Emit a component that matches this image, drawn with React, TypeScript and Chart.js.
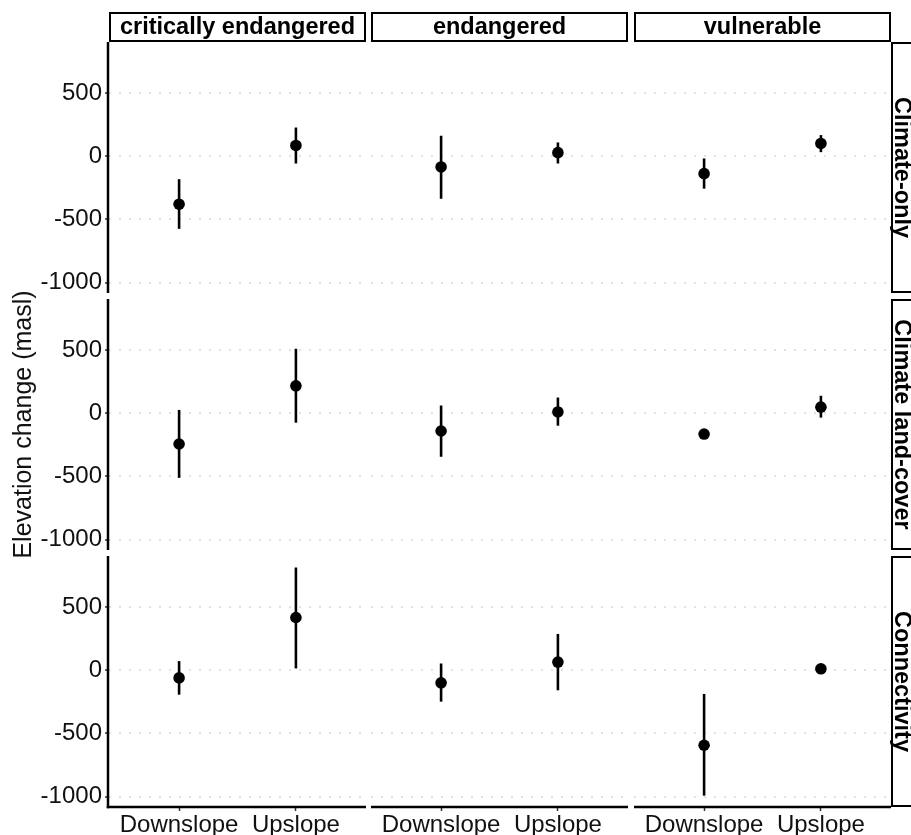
import React, { useEffect, useRef } from 'react';
import { Chart, registerables } from 'chart.js';

Chart.register(...registerables);

// ---------- data ----------
const categories = ['Downslope', 'Upslope'];
const statuses = ['critically endangered', 'endangered', 'vulnerable'];
const models = ['Climate-only', 'Climate land-cover', 'Connectivity'];
const yTicks = [-1000, -500, 0, 500];
const yMin = -1083;
const yMax = 904;

// order: CE-Down, CE-Up, EN-Down, EN-Up, VU-Down, VU-Up
const climateOnlyEst = [-380, 85, -85, 28, -138, 101];
const climateOnlyLow = [-575, -58, -337, -58, -257, 32];
const climateOnlyHigh = [-182, 227, 162, 109, -18, 167];

const landCoverEst = [-244, 217, -141, 10, -165, 48];
const landCoverLow = [-512, -75, -345, -99, -180, -35];
const landCoverHigh = [26, 510, 61, 124, -150, 138];

const connectivityEst = [-61, 417, -100, 64, -594, 11];
const connectivityLow = [-194, 14, -249, -159, -993, -3];
const connectivityHigh = [72, 813, 53, 287, -188, 25];

const estimates = [climateOnlyEst, landCoverEst, connectivityEst];
const lows = [climateOnlyLow, landCoverLow, connectivityLow];
const highs = [climateOnlyHigh, landCoverHigh, connectivityHigh];

// ---------- layout ----------
const W = 911;
const H = 835;
const COL_LEFT = [109, 371, 634];
const PANEL_W = 257;
const ROW_TOP = [42, 299, 556];
const PANEL_H = 251;
const YAXIS_W = 104;
const XAXIS_H = 28;
const FONT = "'Liberation Sans', Arial, Helvetica, sans-serif";
const TEXT_COLOR = '#111111';

Chart.defaults.font.family = FONT;

function Panel({ row, col }: { row: number; col: number }) {
  const ref = useRef<HTMLCanvasElement | null>(null);

  useEffect(() => {
    if (!ref.current) return;
    const est = estimates[row];
    const lo = lows[row];
    const hi = highs[row];
    const idx = [col * 2, col * 2 + 1];

    const barData = idx.map((k, i) => ({ x: i, y: [lo[k], hi[k]] }));
    const pointData = idx.map((k, i) => ({ x: i, y: est[k] }));

    const left = COL_LEFT[col];
    const top = ROW_TOP[row];
    const right = left + PANEL_W;
    const bottom = top + PANEL_H;

    const decor = {
      id: 'decor' + row + col,
      afterDraw(chart: any) {
        const ctx = chart.ctx;
        const a = chart.chartArea;
        ctx.save();
        ctx.strokeStyle = '#000';
        ctx.lineCap = 'butt';
        // left axis line
        if (col === 0) {
          ctx.lineWidth = 2.5;
          ctx.beginPath();
          ctx.moveTo(a.left - 1, a.top);
          ctx.lineTo(a.left - 1, a.bottom + (row === 2 ? 1.25 : 0));
          ctx.stroke();
        }
        // bottom axis line
        if (row === 2) {
          ctx.lineWidth = 2.5;
          ctx.beginPath();
          ctx.moveTo(a.left - (col === 0 ? 2.25 : 0), a.bottom);
          ctx.lineTo(a.right, a.bottom);
          ctx.stroke();
        }
        // top strip
        if (row === 0) {
          ctx.lineWidth = 2;
          ctx.fillStyle = '#fff';
          ctx.fillRect(a.left + 1, 13, a.right - a.left - 2, 28);
          ctx.strokeRect(a.left + 1, 13, a.right - a.left - 2, 28);
          ctx.fillStyle = '#000';
          ctx.font = 'bold 23.5px ' + FONT;
          ctx.textAlign = 'center';
          ctx.textBaseline = 'middle';
          ctx.fillText(statuses[col], (a.left + a.right) / 2, 28);
        }
        // right strip
        if (col === 2) {
          ctx.lineWidth = 2;
          ctx.fillStyle = '#fff';
          ctx.fillRect(892, a.top + 1, 40, a.bottom - a.top - 2);
          ctx.strokeRect(892, a.top + 1, 40, a.bottom - a.top - 2);
          ctx.fillStyle = '#000';
          ctx.font = 'bold 23.5px ' + FONT;
          ctx.translate(895, (a.top + a.bottom) / 2);
          ctx.rotate(Math.PI / 2);
          ctx.textAlign = 'center';
          ctx.textBaseline = 'alphabetic';
          ctx.fillText(models[row], 0, 0);
        }
        ctx.restore();
      },
    };

    const chart = new Chart(ref.current, {
      type: 'scatter',
      data: {
        datasets: [
          {
            type: 'bar',
            data: barData as any,
            backgroundColor: '#000',
            borderWidth: 0,
            barThickness: 2.6,
            inflateAmount: 0,
            order: 2,
          } as any,
          {
            type: 'scatter',
            data: pointData,
            backgroundColor: '#000',
            borderWidth: 0,
            pointRadius: 5.8,
            order: 1,
          },
        ],
      },
      plugins: [decor],
      options: {
        animation: false,
        responsive: false,
        events: [],
        layout: {
          padding: {
            left: left - (col === 0 ? YAXIS_W : 0),
            top: top,
            right: W - right,
            bottom: H - bottom - (row === 2 ? XAXIS_H : 0),
          },
        },
        plugins: {
          legend: { display: false },
          tooltip: { enabled: false },
        },
        scales: {
          x: {
            type: 'linear',
            min: -0.6,
            max: 1.6,
            offset: false,
            display: row === 2,
            afterBuildTicks: (s: any) => {
              s.ticks = categories.map((_, i) => ({ value: i }));
            },
            afterFit: (s: any) => {
              s.height = row === 2 ? XAXIS_H : 0;
            },
            grid: {
              offset: false,
              drawOnChartArea: false,
              drawTicks: true,
              tickLength: 4,
              tickColor: '#333',
              tickWidth: 1.5,
            },
            border: { display: false },
            ticks: {
              padding: 0,
              maxRotation: 0,
              autoSkip: false,
              color: TEXT_COLOR,
              font: { size: 24, family: FONT },
              callback: (v: any) => categories[Math.round(Number(v))] ?? '',
            },
          },
          y: {
            type: 'linear',
            min: yMin,
            max: yMax,
            afterBuildTicks: (s: any) => {
              s.ticks = yTicks.map((v) => ({ value: v }));
            },
            afterFit: (s: any) => {
              s.width = col === 0 ? YAXIS_W : 0;
            },
            grid: {
              color: '#e2e2e2',
              lineWidth: 2,
              drawTicks: col === 0,
              tickLength: 4,
              tickColor: '#333',
              tickWidth: 1.5,
            },
            border: { display: false, dash: [2, 8] },
            title: {
              display: col === 0 && row === 1,
              text: 'Elevation change (masl)',
              color: TEXT_COLOR,
              font: { size: 25, family: FONT },
              padding: { top: 4, bottom: 0 },
            },
            ticks: {
              display: col === 0,
              padding: 3,
              color: TEXT_COLOR,
              font: { size: 24, family: FONT },
              callback: (v: any) => String(v),
            },
          },
        },
      } as any,
    });

    return () => chart.destroy();
  }, [row, col]);

  return (
    <canvas
      ref={ref}
      width={W}
      height={H}
      style={{ position: 'absolute', left: 0, top: 0, width: W, height: H }}
    />
  );
}

export default function App() {
  const panels = [];
  for (let r = 0; r < 3; r++) {
    for (let c = 0; c < 3; c++) {
      panels.push(<Panel key={r + '-' + c} row={r} col={c} />);
    }
  }
  return (
    <div
      style={{
        position: 'absolute',
        left: 0,
        top: 0,
        width: W,
        height: H,
        background: '#fff',
        overflow: 'hidden',
      }}
    >
      {panels}
    </div>
  );
}
